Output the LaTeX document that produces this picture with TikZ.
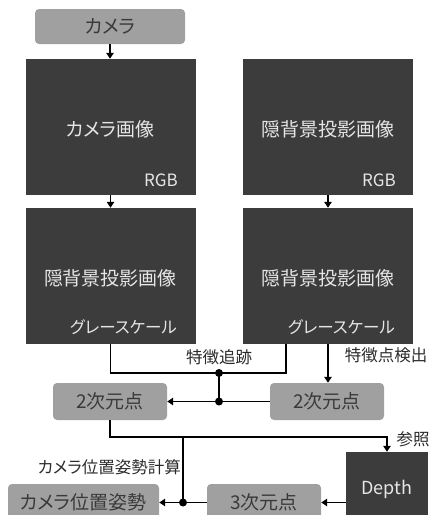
\documentclass[tikz,border=0pt]{standalone}
\usepackage{fontspec}
\setmainfont{Noto Sans CJK JP}[RawFeature=+palt]
\usetikzlibrary{arrows.meta}
\definecolor{darkfill}{HTML}{3C3C3C}
\definecolor{grayfill}{HTML}{A0A0A0}
\definecolor{graytext}{HTML}{3A3A3A}
\definecolor{lighttext}{HTML}{E6E6E6}
\definecolor{labeltext}{HTML}{2B2B2B}
\begin{document}
\begin{tikzpicture}[x=1pt,y=-1pt,
  dbox/.style={fill=darkfill, draw=none, inner sep=0pt, minimum width=170pt, minimum height=136pt},
  gbox/.style={fill=grayfill, draw=none, rounded corners=4pt, inner sep=0pt, minimum width=114pt, minimum height=37pt, text=graytext, font=\fontsize{19}{19}\selectfont},
  dtext/.style={inner sep=0pt, text=lighttext, font=\fontsize{19}{19}\selectfont},
  rgbtext/.style={inner sep=0pt, text=lighttext, font=\fontsize{17}{17}\selectfont, anchor=east},
  grtext/.style={inner sep=0pt, text=lighttext, font=\fontsize{16.5}{16.5}\selectfont, anchor=east},
  lbl/.style={inner sep=0pt, text=labeltext, font=\fontsize{16.5}{16.5}\selectfont},
  conn/.style={line width=1.4pt, draw=black},
  arr/.style={conn, -{Triangle[length=6pt,width=7.5pt]}},
  dot/.style={fill=black}
]
\clip (0,0) rectangle (429,515);

% top camera
\node[gbox, minimum width=150pt, minimum height=35pt] (cam) at (110,26.5) {カメラ};

% RGB images
\node[dbox] (img1) at (110.5,127) {};
\node[dtext] (img1t) at (110.5,129) {カメラ画像};
\node[rgbtext] (img1r) at (178,180) {RGB};

\node[dbox] (img2) at (328,127) {};
\node[dtext] (img2t) at (328,129) {隠背景投影画像};
\node[rgbtext] (img2r) at (396,180) {RGB};

% grayscale images
\node[dbox] (gray1) at (110.5,276) {};
\node[dtext] (gray1t) at (110.5,278) {隠背景投影画像};
\node[grtext] (gray1g) at (177,327) {グレースケール};

\node[dbox] (gray2) at (328,276) {};
\node[dtext] (gray2t) at (328,278) {隠背景投影画像};
\node[grtext] (gray2g) at (395,327) {グレースケール};

% 2D points
\node[gbox] (p2a) at (110,401.5) {2次元点};
\node[gbox] (p2b) at (327,401.5) {2次元点};

% bottom row
\node[fill=darkfill, inner sep=0pt, minimum width=82pt, minimum height=74pt, text=lighttext, font=\fontsize{18}{18}\selectfont] (depth) at (387,489) {Depth};
\node[gbox] (p3) at (264,502.5) {3次元点};
\node[gbox, minimum width=151pt] (pose) at (83.5,502.5) {カメラ位置姿勢};

% labels
\node[lbl] (l1) at (219,357) {特徴追跡};
\node[lbl] (l2) at (386,355) {特徴点検出};
\node[lbl] (l3) at (413,439) {参照};
\node[lbl, anchor=east] (l4) at (181,467) {カメラ位置姿勢計算};

% coordinates
\coordinate (j1) at (219,373);
\coordinate (j2) at (219,401.5);
\coordinate (r1) at (286,344);
\coordinate (k1) at (183,437);
\coordinate (j3) at (183,502.5);

% connectors
\draw[arr] (cam.south) -- (cam.south |- img1.north);
\draw[arr] (img1.south) -- (gray1.north);
\draw[arr] (img2.south) -- (gray2.north);
\draw[conn] (gray1.south) |- (j1) -| (r1);
\draw[line width=2pt] (j1) -- (j2);
\draw[arr] (p2b.west) -- (p2a.east);
\draw[arr] (gray2.south) -- (gray2.south |- p2b.north);
\draw[arr] (p2a.south) |- (depth.north |- k1) -- (depth.north);
\draw[conn] (k1) -- (j3);
\draw[arr] (p3.west) -- (pose.east);
\draw[arr] (depth.west |- p3.east) -- (p3.east);
\fill[dot] (j1) circle (4);
\fill[dot] (j2) circle (4);
\fill[dot] (j3) circle (4);
\end{tikzpicture}
\end{document}
